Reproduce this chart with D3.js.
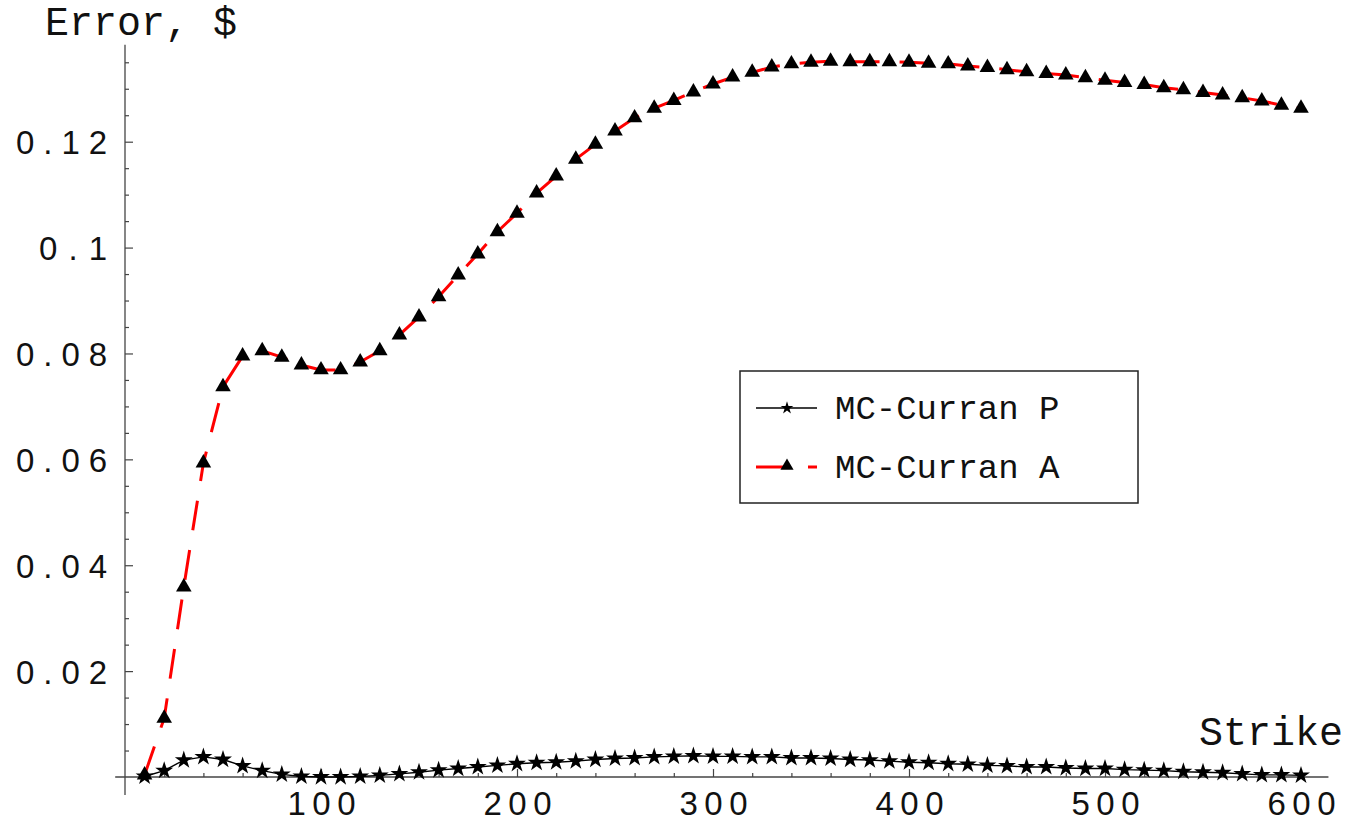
<!DOCTYPE html>
<html>
<head>
<meta charset="utf-8">
<script src="https://cdn.jsdelivr.net/npm/d3@7"></script>
<style>
  body { margin: 0; background: #fff; }
  svg { display: block; }
</style>
</head>
<body>
<div id="chart"></div>
<script>
// strike values (x)
var strikes = [10, 20, 30, 40, 50, 60, 70, 80, 90, 100,
    110, 120, 130, 140, 150, 160, 170, 180, 190, 200,
    210, 220, 230, 240, 250, 260, 270, 280, 290, 300,
    310, 320, 330, 340, 350, 360, 370, 380, 390, 400,
    410, 420, 430, 440, 450, 460, 470, 480, 490, 500,
    510, 520, 530, 540, 550, 560, 570, 580, 590, 600];

// MC-Curran P error
var errP = [0.0001, 0.0012, 0.0032, 0.0038, 0.0033, 0.0021, 0.0012, 0.0005, 0.0001, 0.0000,
    0.0000, 0.0001, 0.0003, 0.0006, 0.0009, 0.0013, 0.0016, 0.0019, 0.0022, 0.0025,
    0.0027, 0.0028, 0.0030, 0.0033, 0.0035, 0.0036, 0.0038, 0.0039, 0.0040, 0.0039,
    0.0039, 0.0038, 0.0038, 0.0036, 0.0036, 0.0035, 0.0033, 0.0032, 0.0030, 0.0028,
    0.0027, 0.0025, 0.0024, 0.0022, 0.0021, 0.0019, 0.0019, 0.0017, 0.0016, 0.0016,
    0.0014, 0.0013, 0.0012, 0.0010, 0.0009, 0.0008, 0.0006, 0.0004, 0.0004, 0.0003];

// MC-Curran A error
var errA = [0.0004, 0.0111, 0.0359, 0.0593, 0.0737, 0.0795, 0.0805, 0.0793, 0.0778, 0.0769,
    0.0769, 0.0784, 0.0805, 0.0835, 0.0869, 0.0907, 0.0948, 0.0988, 0.1030, 0.1065,
    0.1103, 0.1135, 0.1167, 0.1195, 0.1220, 0.1245, 0.1263, 0.1278, 0.1294, 0.1309,
    0.1322, 0.1331, 0.1341, 0.1347, 0.1350, 0.1352, 0.1351, 0.1351, 0.1351, 0.1350,
    0.1348, 0.1347, 0.1343, 0.1340, 0.1336, 0.1332, 0.1329, 0.1326, 0.1321, 0.1316,
    0.1312, 0.1308, 0.1302, 0.1298, 0.1293, 0.1288, 0.1283, 0.1277, 0.1269, 0.1263];

var xTickVals = [100, 200, 300, 400, 500, 600];
var yTickVals = [0.02, 0.04, 0.06, 0.08, 0.1, 0.12];
var seriesNames = ["MC-Curran P", "MC-Curran A"];

var width = 1352, height = 825;
var monoFont = "'Liberation Mono', 'Courier New', monospace";
var numFont = "'Liberation Sans', Arial, sans-serif";

var svg = d3.select("#chart").append("svg")
    .attr("width", width)
    .attr("height", height);

var x = d3.scaleLinear().domain([0, 600]).range([125, 1301]);
var y = d3.scaleLinear().domain([0, 0.12]).range([777, 141.7]);

var axisColor = "#444";

// axis lines
svg.append("line")
    .attr("x1", x(-5)).attr("x2", x(614))
    .attr("y1", y(0)).attr("y2", y(0))
    .attr("stroke", axisColor).attr("stroke-width", 1.3);
svg.append("line")
    .attr("x1", x(0)).attr("x2", x(0))
    .attr("y1", y(-0.0034)).attr("y2", y(0.1383))
    .attr("stroke", axisColor).attr("stroke-width", 1.3);

// minor ticks
var xMinor = d3.range(20, 601, 20).filter(d => d % 100 !== 0);
var yMinor = d3.range(1, 28).map(d => d * 0.005).filter(d => Math.abs(d / 0.02 - Math.round(d / 0.02)) > 1e-6);

var gx = svg.append("g").attr("transform", `translate(0,${y(0)})`);
gx.call(d3.axisBottom(x).tickValues(xMinor).tickSize(-4).tickFormat(""));
gx.append("g").call(d3.axisBottom(x).tickValues(xTickVals).tickSize(-8).tickPadding(15)
    .tickFormat(d3.format("d")));

var gy = svg.append("g").attr("transform", `translate(${x(0)},0)`);
gy.call(d3.axisLeft(y).tickValues(yMinor).tickSize(-4).tickFormat(""));
gy.append("g").call(d3.axisLeft(y).tickValues(yTickVals).tickSize(-8).tickPadding(18)
    .tickFormat(d => d === 0.1 ? "0.1" : d3.format(".2f")(d)));

svg.selectAll(".domain").remove();
svg.selectAll(".tick line").attr("stroke", axisColor).attr("stroke-width", 1.2);

gx.selectAll(".tick text")
    .attr("font-family", numFont)
    .attr("font-size", 33)
    .attr("fill", "#111")
    .attr("dy", "0.71em")
    .attr("textLength", function() { return this.textContent.length * 23 - 1; })
    .attr("lengthAdjust", "spacing");

gy.selectAll(".tick text")
    .attr("font-family", numFont)
    .attr("font-size", 33)
    .attr("fill", "#111")
    .attr("dy", "0.36em")
    .attr("textLength", function() { return this.textContent.length * 23 - 1; })
    .attr("lengthAdjust", "spacing");

// axis titles
svg.append("text")
    .attr("x", 45).attr("y", 35)
    .attr("font-family", monoFont).attr("font-size", 40)
    .attr("fill", "#111")
    .text("Error, $");

svg.append("text")
    .attr("x", 1343).attr("y", 745)
    .attr("text-anchor", "end")
    .attr("font-family", monoFont).attr("font-size", 40)
    .attr("fill", "#111")
    .text("Strike");

var dataP = strikes.map((s, i) => [s, errP[i]]);
var dataA = strikes.map((s, i) => [s, errA[i]]);

var line = d3.line().x(d => x(d[0])).y(d => y(d[1]));

svg.append("path")
    .datum(dataA)
    .attr("d", line)
    .attr("fill", "none")
    .attr("stroke", "#ff0000")
    .attr("stroke-width", 3)
    .attr("stroke-dasharray", "30,20");

svg.append("path")
    .datum(dataP)
    .attr("d", line)
    .attr("fill", "none")
    .attr("stroke", "#000")
    .attr("stroke-width", 1.4);

var star = d3.symbol().type(d3.symbolStar).size(100);
var tri = d3.symbol().type(d3.symbolTriangle).size(105);

svg.append("g").selectAll("path")
    .data(dataA)
    .join("path")
    .attr("transform", d => `translate(${x(d[0])},${y(d[1])})`)
    .attr("d", tri)
    .attr("fill", "#000");

svg.append("g").selectAll("path")
    .data(dataP)
    .join("path")
    .attr("transform", d => `translate(${x(d[0])},${y(d[1])})`)
    .attr("d", star)
    .attr("fill", "#000");

// legend
var legend = svg.append("g");
legend.append("rect")
    .attr("x", 740).attr("y", 371)
    .attr("width", 398).attr("height", 132)
    .attr("fill", "#fff")
    .attr("stroke", "#222")
    .attr("stroke-width", 1.5);

legend.append("line")
    .attr("x1", 756).attr("x2", 817).attr("y1", 408).attr("y2", 408)
    .attr("stroke", "#000").attr("stroke-width", 1.3);
legend.append("path")
    .attr("transform", "translate(787,408)")
    .attr("d", d3.symbol().type(d3.symbolStar).size(50))
    .attr("fill", "#000");

legend.append("line")
    .attr("x1", 756).attr("x2", 787).attr("y1", 467).attr("y2", 467)
    .attr("stroke", "#ff0000").attr("stroke-width", 3);
legend.append("line")
    .attr("x1", 808).attr("x2", 817).attr("y1", 467).attr("y2", 467)
    .attr("stroke", "#ff0000").attr("stroke-width", 3);
legend.append("path")
    .attr("transform", "translate(787,466)")
    .attr("d", d3.symbol().type(d3.symbolTriangle).size(75))
    .attr("fill", "#000");

legend.selectAll("text.lbl")
    .data(seriesNames)
    .join("text")
    .attr("class", "lbl")
    .attr("x", 835)
    .attr("y", (d, i) => 419 + i * 59)
    .attr("font-family", monoFont)
    .attr("font-size", 34)
    .attr("fill", "#111")
    .text(d => d);
</script>
</body>
</html>
